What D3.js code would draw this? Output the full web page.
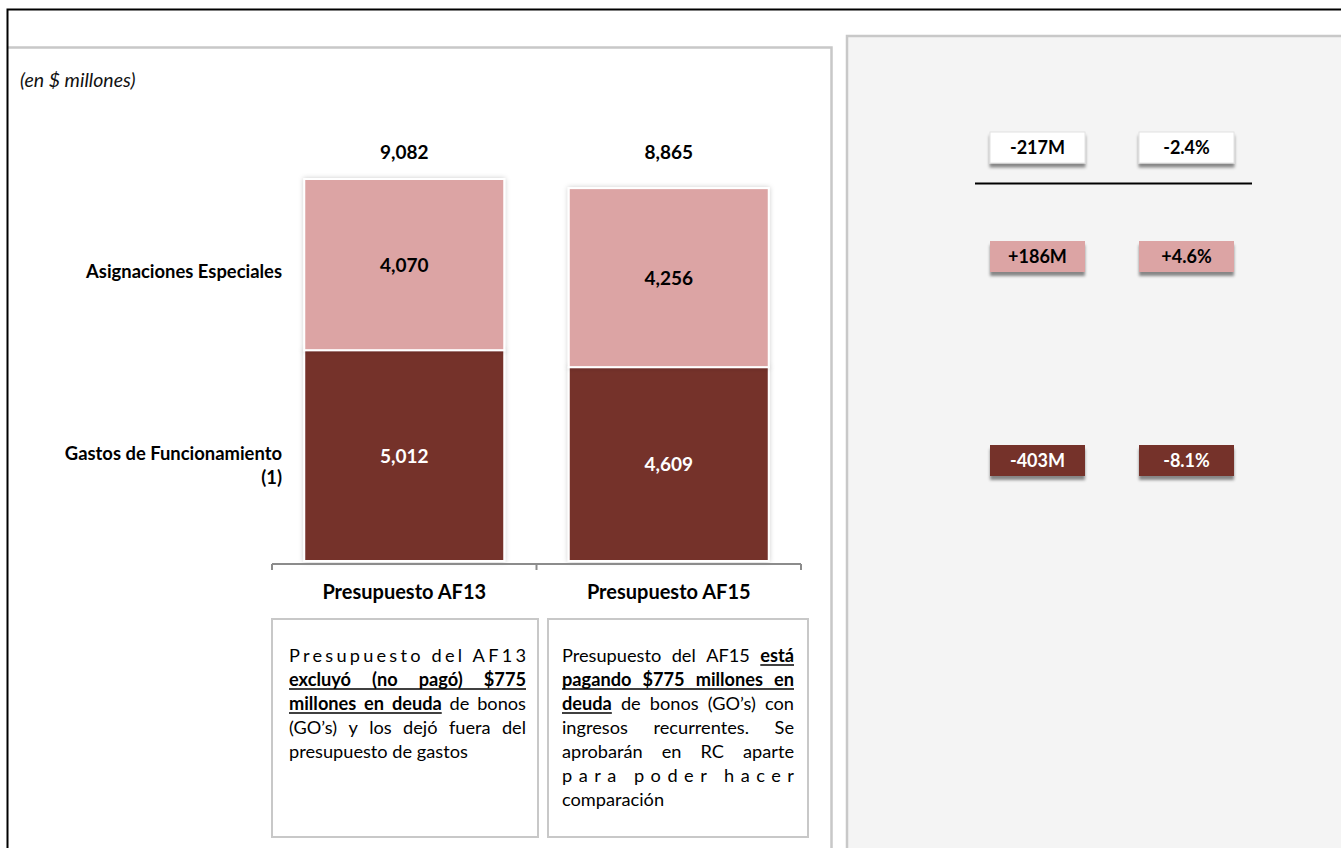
<!DOCTYPE html>
<html>
<head>
<meta charset="utf-8">
<script src="https://cdn.jsdelivr.net/npm/d3@7"></script>
<style>
  body { margin: 0; background: #fff; }
  svg { display: block; }
</style>
</head>
<body>
<svg id="chart" width="1341" height="848"></svg>
<script>
// ---- data (millions of dollars) ----
const categories = ["Presupuesto AF13", "Presupuesto AF15"];
const seriesNames = ["Gastos de Funcionamiento", "Asignaciones Especiales"];
const gastosFuncionamiento = [5012, 4609];
const asignacionesEspeciales = [4070, 4256];
const totals = [9082, 8865];
// change AF13 -> AF15: total, asignaciones, gastos
const changeMillions = [-217, 186, -403];
const changePercent = [-2.4, 4.6, -8.1];

// explanatory notes under each bar: lines of [text, emphasised]
const notes = [
  [
    { mode: "letters", parts: [["Presupuesto del AF13", false]] },
    { mode: "words", parts: [["excluyó (no pagó) $775", true]] },
    { mode: "words", parts: [["millones en deuda", true], [" de bonos", false]] },
    { mode: "words", parts: [["(GO’s) y los dejó fuera del", false]] },
    { mode: "left", parts: [["presupuesto de gastos", false]] }
  ],
  [
    { mode: "words", parts: [["Presupuesto del AF15 ", false], ["está", true]] },
    { mode: "words", parts: [["pagando $775 millones en", true]] },
    { mode: "words", parts: [["deuda", true], [" de bonos (GO’s) con", false]] },
    { mode: "words", parts: [["ingresos recurrentes.  Se", false]] },
    { mode: "words", parts: [["aprobarán en RC aparte", false]] },
    { mode: "letters", parts: [["para poder hacer", false]] },
    { mode: "left", parts: [["comparación", false]] }
  ]
];

const FONT = "Lato, 'Open Sans', sans-serif";
const colors = { gastos: "#74312b", asign: "#dca4a4", panel: "#f4f4f4", frame: "#c8c8c8" };

const svg = d3.select("#chart");
const defs = svg.append("defs");

const barShadow = defs.append("filter").attr("id", "barShadow")
  .attr("x", "-10%").attr("y", "-10%").attr("width", "120%").attr("height", "120%");
barShadow.append("feDropShadow").attr("dx", 0).attr("dy", 0).attr("stdDeviation", 2.5)
  .attr("flood-color", "#000").attr("flood-opacity", 0.2);

const badgeShadow = defs.append("filter").attr("id", "badgeShadow")
  .attr("x", "-20%").attr("y", "-30%").attr("width", "140%").attr("height", "180%");
badgeShadow.append("feDropShadow").attr("dx", 0).attr("dy", 4).attr("stdDeviation", 1.6)
  .attr("flood-color", "#000").attr("flood-opacity", 0.45);

const panelShadow = defs.append("filter").attr("id", "panelShadow")
  .attr("x", "-5%").attr("y", "-5%").attr("width", "110%").attr("height", "110%");
panelShadow.append("feGaussianBlur").attr("stdDeviation", 0.6);

// ---- frames ----
// right comparison panel
svg.append("rect").attr("x", 847).attr("y", 36).attr("width", 520).attr("height", 840)
  .attr("fill", colors.panel).attr("stroke", colors.frame).attr("stroke-width", 2.5)
  .attr("filter", "url(#panelShadow)");
// left chart panel
svg.append("path").attr("d", "M8,47.5 H831.5 V860")
  .attr("fill", "none").attr("stroke", colors.frame).attr("stroke-width", 2.5)
  .attr("filter", "url(#panelShadow)");
// outer black frame
svg.append("path").attr("d", "M7.5,860 V9.5 H1345")
  .attr("fill", "none").attr("stroke", "#000").attr("stroke-width", 2);

// unit note
svg.append("text").attr("x", 20).attr("y", 87)
  .attr("font-family", FONT).attr("font-style", "italic").attr("font-size", 19.5)
  .attr("fill", "#111").text("(en $ millones)");

// ---- scales ----
const x = d3.scaleBand().domain(categories).range([272, 801]).padding(0);
const barWidth = 200;
const y = d3.scaleLinear().domain([0, totals[0]]).range([561, 179]);

const stackData = categories.map((c, i) => ({
  cat: c, gastos: gastosFuncionamiento[i], asign: asignacionesEspeciales[i]
}));
const stack = d3.stack().keys(["gastos", "asign"])(stackData);
const fillFor = { gastos: colors.gastos, asign: colors.asign };

const barG = svg.append("g");
const barX = c => x(c) + (x.bandwidth() - barWidth) / 2;

stack.forEach(layer => {
  barG.selectAll(null).data(layer).join("rect")
    .attr("x", d => barX(d.data.cat))
    .attr("y", d => y(d[1]))
    .attr("width", barWidth)
    .attr("height", d => y(d[0]) - y(d[1]))
    .attr("fill", fillFor[layer.key])
    .attr("stroke", "#fff").attr("stroke-width", 2)
    .attr("filter", "url(#barShadow)");
});

// segment value labels
stack.forEach(layer => {
  svg.append("g").selectAll("text").data(layer).join("text")
    .attr("x", d => barX(d.data.cat) + barWidth / 2)
    .attr("y", d => (y(d[0]) + y(d[1])) / 2 + 7)
    .attr("text-anchor", "middle")
    .attr("font-family", FONT).attr("font-weight", 700).attr("font-size", 19)
    .attr("fill", layer.key === "gastos" ? "#fff" : "#000")
    .text(d => d3.format(",")(d.data[layer.key]));
});

// totals above bars
svg.append("g").selectAll("text").data(categories).join("text")
  .attr("x", c => barX(c) + barWidth / 2)
  .attr("y", 159)
  .attr("text-anchor", "middle")
  .attr("font-family", FONT).attr("font-weight", 700).attr("font-size", 19)
  .attr("fill", "#000")
  .text((c, i) => d3.format(",")(totals[i]));

// category axis with ticks at band boundaries
const axisY = 564;
const tickXs = [x.range()[0]].concat(categories.map(c => x(c) + x.bandwidth()));
const axisG = svg.append("g");
axisG.append("line").attr("x1", tickXs[0]).attr("x2", tickXs[tickXs.length - 1])
  .attr("y1", axisY).attr("y2", axisY).attr("stroke", "#8c8c8c").attr("stroke-width", 2);
axisG.selectAll(".tick").data(tickXs).join("line")
  .attr("x1", d => d).attr("x2", d => d).attr("y1", axisY).attr("y2", axisY + 6)
  .attr("stroke", "#8c8c8c").attr("stroke-width", 2);
axisG.selectAll("text").data(categories).join("text")
  .attr("x", c => x(c) + x.bandwidth() / 2).attr("y", 599)
  .attr("text-anchor", "middle")
  .attr("font-family", FONT).attr("font-weight", 700).attr("font-size", 20)
  .attr("fill", "#000").text(c => c);

// series (row) labels at the left
const rowLabels = [
  { lines: [seriesNames[1]], y: 278 },
  { lines: ["Gastos de Funcionamiento", "(1)"], y: 460 }
];
rowLabels.forEach(r => {
  r.lines.forEach((t, k) => {
    svg.append("text").attr("x", 282).attr("y", r.y + k * 24)
      .attr("text-anchor", "end")
      .attr("font-family", FONT).attr("font-weight", 700).attr("font-size", 18.4)
      .attr("fill", "#000").text(t);
  });
});

// ---- note boxes with justified text ----
const boxes = [
  { x: 272, y: 619, w: 266, h: 218, tx: 289, tw: 237 },
  { x: 548, y: 619, w: 260, h: 218, tx: 562, tw: 232 }
];
const NOTE_SIZE = 18.2, LINE_H = 24, FIRST_BASE = 662;

const measurer = svg.append("text").attr("font-family", FONT).attr("font-size", NOTE_SIZE)
  .attr("visibility", "hidden");
function measure(t, bold) {
  measurer.attr("font-weight", bold ? 700 : 400).text(t);
  return measurer.node().getComputedTextLength();
}

boxes.forEach((b, bi) => {
  svg.append("rect").attr("x", b.x).attr("y", b.y).attr("width", b.w).attr("height", b.h)
    .attr("fill", "#fff").attr("stroke", colors.frame).attr("stroke-width", 2);
  const g = svg.append("g").attr("font-family", FONT).attr("font-size", NOTE_SIZE).attr("fill", "#000");
  notes[bi].forEach((line, li) => {
    const base = FIRST_BASE + li * LINE_H;
    if (line.mode === "letters") {
      const t = line.parts.map(p => p[0]).join("");
      const w = measure(t, false);
      const ls = (b.tw - w) / (t.length - 1);
      g.append("text").attr("x", b.tx).attr("y", base).attr("letter-spacing", ls).text(t);
      return;
    }
    const words = [];
    line.parts.forEach(([t, bold]) => {
      t.split(/\s+/).filter(s => s.length).forEach(s => words.push({ t: s, bold }));
    });
    words.forEach(wd => wd.w = measure(wd.t, wd.bold));
    const sum = d3.sum(words, wd => wd.w);
    const gap = line.mode === "words" && words.length > 1
      ? (b.tw - sum) / (words.length - 1) : measure("a b", false) - measure("ab", false);
    let cx = b.tx;
    words.forEach(wd => { wd.x = cx; cx += wd.w + gap; });
    words.forEach(wd => {
      g.append("text").attr("x", wd.x).attr("y", base)
        .attr("font-weight", wd.bold ? 700 : 400).text(wd.t);
    });
    // continuous underline beneath emphasised runs
    let run = null;
    words.concat([{ bold: false }]).forEach(wd => {
      if (wd.bold) {
        if (!run) run = { x0: wd.x };
        run.x1 = wd.x + wd.w;
      } else if (run) {
        g.append("line").attr("x1", run.x0).attr("x2", run.x1)
          .attr("y1", base + 3).attr("y2", base + 3)
          .attr("stroke", "#000").attr("stroke-width", 1.7);
        run = null;
      }
    });
  });
});
measurer.remove();

// ---- change badges (AF15 vs AF13) ----
const badgeRows = [
  { y: 132, fill: "#ffffff", text: "#000" },
  { y: 241, fill: colors.asign, text: "#000" },
  { y: 445, fill: colors.gastos, text: "#fff" }
];
const badgeCols = [990, 1139];
const BW = 95, BH = 31;
const fmtM = v => (v > 0 ? "+" : "-") + Math.abs(v) + "M";
const fmtP = v => (v > 0 ? "+" : "-") + Math.abs(v).toFixed(1) + "%";

const badgeG = svg.append("g");
badgeRows.forEach((r, i) => {
  [fmtM(changeMillions[i]), fmtP(changePercent[i])].forEach((label, j) => {
    badgeG.append("rect").attr("x", badgeCols[j]).attr("y", r.y)
      .attr("width", BW).attr("height", BH)
      .attr("fill", r.fill).attr("stroke", i === 0 ? "#e2e2e2" : "none")
      .attr("filter", "url(#badgeShadow)");
    badgeG.append("text").attr("x", badgeCols[j] + BW / 2).attr("y", r.y + BH / 2 + 6.5)
      .attr("text-anchor", "middle")
      .attr("font-family", FONT).attr("font-weight", 700).attr("font-size", 18)
      .attr("fill", r.text).text(label);
  });
});
// rule between total and components
svg.append("line").attr("x1", 975).attr("x2", 1252).attr("y1", 183.5).attr("y2", 183.5)
  .attr("stroke", "#000").attr("stroke-width", 2);
</script>
</body>
</html>
